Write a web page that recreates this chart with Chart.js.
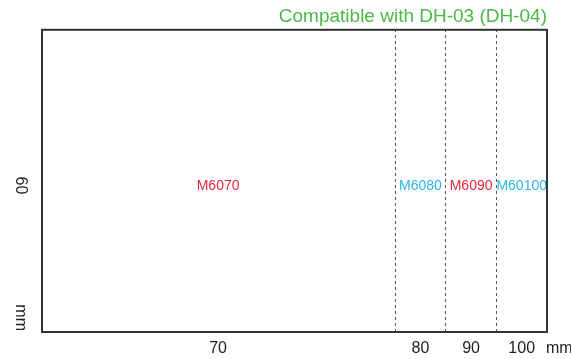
<!DOCTYPE html>
<html>
<head>
<meta charset="utf-8">
<script src="https://cdn.jsdelivr.net/npm/chart.js@4/dist/chart.umd.min.js"></script>
<style>
  html, body { margin: 0; padding: 0; background: #fff; }
  #wrap { width: 571px; height: 359px; }
</style>
</head>
<body>
<div id="wrap"><canvas id="chart"></canvas></div>
<script>
// Widths (mm) where each model ends, all 60 mm tall
const widths = [70, 80, 90, 100];
const models = ['M6070', 'M6080', 'M6090', 'M60100'];
const modelColors = ['#e5283f', '#2db5e5', '#e5283f', '#2db5e5'];
const heightLabel = '60';
const unit = 'mm';
const titleText = 'Compatible with DH-03 (DH-04)';

const FONT = "'Liberation Sans', Arial, sans-serif";

// each segment runs from the previous width to its own
const segments = widths.map((w, i) => [i === 0 ? 0 : widths[i - 1], w]);
const mids = segments.map(s => (s[0] + s[1]) / 2);

const datasets = models.map((m, i) => ({
  label: m,
  data: [segments[i]],
  backgroundColor: 'rgba(0,0,0,0)',
  borderWidth: 0,
  grouped: false,
  barPercentage: 1,
  categoryPercentage: 1
}));

// writes model names inside segments, box outline and axis texts
const decor = {
  id: 'decor',
  afterDraw(chart) {
    const ctx = chart.ctx;
    const a = chart.chartArea;
    ctx.save();

    ctx.font = '14px ' + FONT;
    ctx.textAlign = 'center';
    ctx.textBaseline = 'middle';
    chart.data.datasets.forEach((ds, i) => {
      const el = chart.getDatasetMeta(i).data[0];
      ctx.fillStyle = modelColors[i];
      ctx.fillText(ds.label, (el.x + el.base) / 2, el.y + 6);
    });

    ctx.strokeStyle = '#333';
    ctx.lineWidth = 2;
    ctx.strokeRect(a.left + 1, a.top + 1, a.right - a.left - 1, a.bottom - a.top - 1);

    ctx.fillStyle = '#222';
    ctx.font = '16px ' + FONT;
    ctx.textBaseline = 'middle';
    ctx.textAlign = 'left';
    ctx.fillText(unit, a.right - 1, a.bottom + 17);

    ctx.save();
    ctx.translate(20, (a.top + a.bottom) / 2 + 5);
    ctx.rotate(Math.PI / 2);
    ctx.textAlign = 'center';
    ctx.fillText(heightLabel, 0, 0);
    ctx.restore();

    ctx.save();
    ctx.translate(20, a.bottom - 1);
    ctx.rotate(Math.PI / 2);
    ctx.textAlign = 'right';
    ctx.fillText(unit, 0, 0);
    ctx.restore();

    ctx.restore();
  }
};

new Chart(document.getElementById('chart'), {
  type: 'bar',
  data: { labels: [heightLabel], datasets: datasets },
  options: {
    responsive: true,
    maintainAspectRatio: false,
    animation: false,
    indexAxis: 'y',
    layout: { padding: { left: 41, right: 24, top: 0, bottom: 0 } },
    plugins: {
      legend: { display: false },
      tooltip: { enabled: false },
      title: {
        display: true,
        text: titleText,
        align: 'end',
        color: '#4cb847',
        font: { family: FONT, size: 19, weight: 'normal' },
        padding: { top: 5, bottom: 1 }
      }
    },
    scales: {
      y: { display: false },
      x: {
        type: 'linear',
        min: 0,
        max: widths[widths.length - 1],
        afterBuildTicks: s => { s.ticks = mids.map(v => ({ value: v })); },
        afterFit: s => { s.height = 27; },
        ticks: {
          padding: 7,
          color: '#222',
          font: { family: FONT, size: 16 },
          callback: (v, i) => widths[i]
        },
        grid: { display: false, drawTicks: false },
        border: { display: false }
      },
      sep: {
        type: 'linear',
        position: 'top',
        min: 0,
        max: widths[widths.length - 1],
        afterBuildTicks: s => { s.ticks = widths.slice(0, -1).map(v => ({ value: v })); },
        afterFit: s => { s.height = 0; },
        ticks: { display: false },
        grid: { color: '#555', lineWidth: 1, drawTicks: false },
        border: { display: false, dash: [3, 3] }
      }
    }
  },
  plugins: [decor]
});
</script>
</body>
</html>
